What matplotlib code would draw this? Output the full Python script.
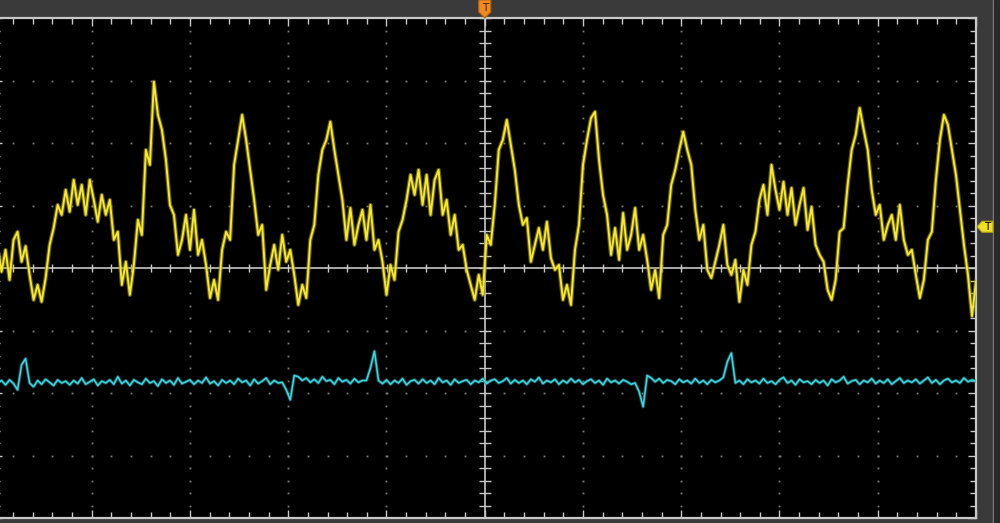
"""Scope screen capture: two channels on a 10 x 8 division graticule."""
import numpy as np
import matplotlib.pyplot as plt
from matplotlib.patches import Polygon, Rectangle
from matplotlib.transforms import IdentityTransform

# channel readings in divisions (time runs -5 .. +5 div)
ch1_div = [
    0.16, 0.37, -0.06, 0.29, -0.19, 0.45, 0.58, 0.10, 0.35, -0.11,
    -0.51, -0.27, -0.54, -0.16, 0.37, 0.64, 1.01, 0.85, 1.25, 0.90,
    1.41, 1.01, 1.33, 0.85, 1.41, 1.09, 0.74, 1.17, 0.85, 1.09,
    0.45, 0.58, -0.27, 0.10, -0.43, 0.05, 0.77, 0.53, 1.89, 1.65,
    2.98, 2.45, 2.21, 1.73, 1.01, 0.85, 0.21, 0.45, 0.85, 0.29,
    0.93, 0.21, 0.45, 0.05, -0.48, -0.19, -0.51, 0.29, 0.58, 0.45,
    1.65, 2.05, 2.45, 2.05, 1.57, 1.09, 0.53, 0.69, -0.35, 0.05,
    0.37, -0.03, 0.53, 0.10, 0.29, -0.11, -0.59, -0.27, -0.48, 0.45,
    0.69, 1.49, 1.89, 2.05, 2.34, 1.89, 1.49, 1.09, 0.45, 0.96,
    0.37, 0.69, 0.93, 0.45, 1.01, 0.29, 0.45, 0.10, -0.43, 0.05,
    -0.19, 0.58, 0.77, 1.09, 1.49, 1.17, 1.57, 1.01, 1.49, 0.85,
    1.41, 1.57, 0.85, 1.09, 0.53, 0.85, 0.29, 0.37, -0.03, -0.27,
    -0.51, -0.11, -0.43, 0.53, 0.37, 1.01, 1.89, 2.05, 2.37, 1.97,
    1.57, 1.01, 0.69, 0.80, 0.10, 0.37, 0.64, 0.29, 0.74, 0.16,
    -0.03, 0.05, -0.51, -0.27, -0.59, 0.29, 0.69, 1.65, 2.05, 2.40,
    2.50, 1.73, 1.17, 0.85, 0.21, 0.64, 0.13, 0.88, 0.29, 0.53,
    0.96, 0.29, 0.53, 0.13, -0.35, -0.03, -0.48, 0.53, 0.69, 1.33,
    1.57, 1.89, 2.18, 1.89, 1.65, 0.93, 0.45, 0.69, -0.03, -0.16,
    0.10, 0.37, 0.69, 0.05, -0.11, 0.13, -0.54, -0.03, -0.27, 0.37,
    0.58, 1.09, 1.33, 0.85, 1.65, 1.25, 0.93, 1.38, 0.85, 1.28,
    0.69, 1.01, 1.28, 0.61, 0.98, 0.37, 0.21, 0.10, -0.35, -0.51,
    -0.19, 0.58, 0.64, 1.33, 1.89, 2.13, 2.56, 2.21, 1.89, 1.25,
    0.85, 1.01, 0.45, 0.69, 0.85, 0.45, 1.01, 0.45, 0.21, 0.29,
    -0.11, -0.48, -0.19, 0.45, 0.58, 1.41, 2.05, 2.45, 2.29, 1.89,
    1.49, 0.93, 0.37, -0.11, -0.77, -0.22,
]

ch2_div = [
    -1.78, -1.84, -1.80, -1.87, -1.79, -1.85, -1.95, -1.55, -1.45, -1.84,
    -1.90, -1.80, -1.86, -1.78, -1.83, -1.88, -1.79, -1.84, -1.81, -1.87,
    -1.80, -1.85, -1.76, -1.86, -1.82, -1.78, -1.88, -1.81, -1.84, -1.79,
    -1.86, -1.74, -1.85, -1.80, -1.88, -1.79, -1.83, -1.86, -1.77, -1.84,
    -1.81, -1.89, -1.78, -1.84, -1.80, -1.87, -1.76, -1.85, -1.82, -1.79,
    -1.86, -1.80, -1.84, -1.75, -1.85, -1.81, -1.88, -1.79, -1.84, -1.80,
    -1.86, -1.77, -1.83, -1.80, -1.88, -1.78, -1.85, -1.81, -1.76, -1.86,
    -1.80, -1.84, -1.83, -1.95, -2.11, -1.72, -1.74, -1.80, -1.76, -1.83,
    -1.78, -1.84, -1.74, -1.81, -1.79, -1.86, -1.76, -1.82, -1.79, -1.85,
    -1.77, -1.83, -1.80, -1.80, -1.60, -1.33, -1.80, -1.85, -1.79, -1.86,
    -1.80, -1.84, -1.77, -1.87, -1.81, -1.79, -1.85, -1.78, -1.84, -1.80,
    -1.86, -1.76, -1.83, -1.80, -1.87, -1.78, -1.84, -1.81, -1.79, -1.86,
    -1.80, -1.83, -1.77, -1.85, -1.80, -1.78, -1.84, -1.81, -1.76, -1.85,
    -1.79, -1.84, -1.80, -1.86, -1.78, -1.82, -1.75, -1.85, -1.80, -1.83,
    -1.78, -1.86, -1.80, -1.84, -1.77, -1.83, -1.79, -1.86, -1.81, -1.78,
    -1.84, -1.80, -1.87, -1.77, -1.83, -1.80, -1.85, -1.79, -1.82, -1.86,
    -1.84, -1.98, -2.22, -1.72, -1.76, -1.82, -1.77, -1.84, -1.79, -1.81,
    -1.86, -1.78, -1.83, -1.80, -1.85, -1.77, -1.84, -1.80, -1.86, -1.79,
    -1.83, -1.80, -1.75, -1.50, -1.36, -1.84, -1.80, -1.86, -1.78, -1.83,
    -1.80, -1.85, -1.77, -1.84, -1.81, -1.86, -1.79, -1.75, -1.84, -1.80,
    -1.87, -1.78, -1.83, -1.81, -1.86, -1.79, -1.84, -1.80, -1.88, -1.78,
    -1.83, -1.80, -1.74, -1.85, -1.81, -1.79, -1.86, -1.80, -1.83, -1.77,
    -1.85, -1.80, -1.84, -1.78, -1.86, -1.81, -1.76, -1.84, -1.80, -1.83,
    -1.78, -1.85, -1.80, -1.75, -1.84, -1.79, -1.86, -1.80, -1.77, -1.83,
    -1.80, -1.84, -1.76, -1.82, -1.79, -1.81,
]

trig_time = 0.0
trig_level = 0.66

grid_col = "#7c7c7c"
frame_col = "#c8c8c8"

t1 = np.linspace(-5, 5, len(ch1_div))
t2 = np.linspace(-5, 5, len(ch2_div))

fig = plt.figure(figsize=(10, 5.23), dpi=100, facecolor="#3a3a3a")
# right hand strip next to the graticule
fig.patches.append(Rectangle((0.9925, 0), 0.0015, 1, transform=fig.transFigure,
                             color="#8a8a8a", zorder=-1))
fig.patches.append(Rectangle((0.994, 0), 0.006, 1, transform=fig.transFigure,
                             color="#2a2a2a", zorder=-1))

ax = fig.add_axes([-0.0065, 5 / 523, 0.9825, 500 / 523])
ax.set_facecolor("black")
ax.set_xlim(-5, 5)
ax.set_ylim(-4, 4)

for sp in ax.spines.values():
    sp.set_color(frame_col)
    sp.set_linewidth(1.6)

ax.set_xticks(np.arange(-5, 5.01, 1))
ax.set_yticks(np.arange(-4, 4.01, 1))
ax.set_xticks(np.arange(-5, 5.01, 0.2), minor=True)
ax.set_yticks(np.arange(-4, 4.01, 0.2), minor=True)
ax.tick_params(which="both", direction="in", top=True, right=True,
               labelbottom=False, labelleft=False, color=frame_col, width=1)
ax.tick_params(which="major", length=6)
ax.tick_params(which="minor", length=4)

# dotted graticule
minor_x = np.arange(-5, 5.001, 0.2)
minor_y = np.arange(-4, 4.001, 0.2)
for gx in range(-4, 5):
    if gx == 0:
        continue
    ax.plot(np.full_like(minor_y, gx), minor_y, ls="none", marker="s",
            ms=1.3, mew=0, color=grid_col, zorder=1)
for gy in range(-3, 4):
    if gy == 0:
        continue
    ax.plot(minor_x, np.full_like(minor_x, gy), ls="none", marker="s",
            ms=1.3, mew=0, color=grid_col, zorder=1)

# centre axes with their cross bars
ax.axhline(0, color=frame_col, lw=1.2, zorder=2)
ax.axvline(0, color=frame_col, lw=1.2, zorder=2)
ax.plot(minor_x, np.zeros_like(minor_x), ls="none", marker="|", ms=6,
        mew=1, color=frame_col, zorder=2)
ax.plot(np.zeros_like(minor_y), minor_y, ls="none", marker="_", ms=8,
        mew=1, color=frame_col, zorder=2)

# traces: dim persistence underneath, bright trace on top
ax.plot(t1, ch1_div, color="#9a8e18", lw=3.0, alpha=0.65, zorder=4)
ax.plot(t1, ch1_div, color="#f6e82a", lw=1.4, zorder=5)
ax.plot(t2, ch2_div, color="#1f7f86", lw=2.4, alpha=0.65, zorder=4)
ax.plot(t2, ch2_div, color="#40d8e0", lw=1.1, zorder=5)

# trigger markers, placed in display pixels
px, _ = ax.transData.transform((trig_time, 0))
top = 523
pts = [(px - 6, top), (px + 6, top), (px + 6, top - 12), (px, top - 18),
       (px - 6, top - 12)]
fig.add_artist(Polygon(pts, closed=True, transform=IdentityTransform(),
                       fc="#f08a1e", ec="#b86010", lw=0.8))
fig.text(px, top - 8, "T", transform=IdentityTransform(), ha="center",
         va="center", fontsize=7.5, color="#402000")

rx, py = ax.transData.transform((5, trig_level))
pts = [(rx + 1, py), (rx + 6, py + 5.5), (rx + 17, py + 5.5),
       (rx + 17, py - 5.5), (rx + 6, py - 5.5)]
fig.add_artist(Polygon(pts, closed=True, transform=IdentityTransform(),
                       fc="#f0e020", ec="#b0a010", lw=0.8))
fig.text(rx + 11, py, "T", transform=IdentityTransform(), ha="center",
         va="center", fontsize=7.5, color="black")

fig.savefig("out.png", dpi=100, facecolor=fig.get_facecolor())
